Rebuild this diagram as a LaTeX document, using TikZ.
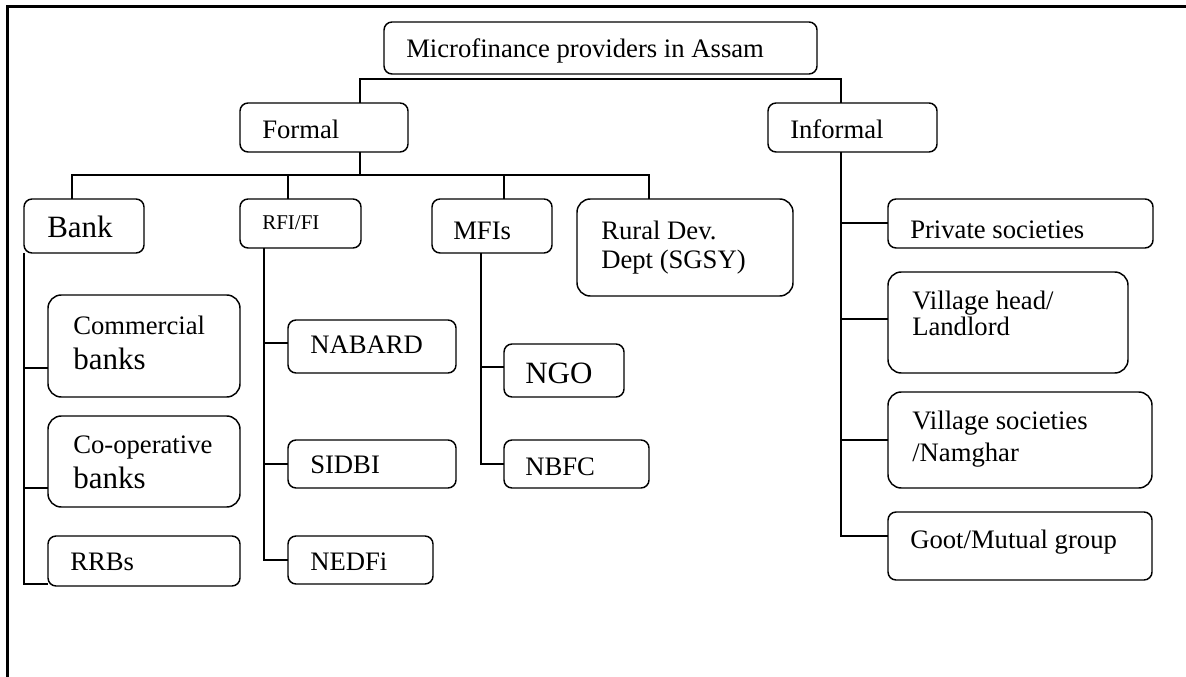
\documentclass[tikz,border=0pt]{standalone}
\usepackage{fontspec}
\setmainfont{Liberation Serif}
\newcommand\mybox[6][]{\node[boxst,#1,minimum width={(#5-#3)*0.75pt},minimum height={(#6-#4)*0.75pt}] (#2) at ({(#3+#5)/2},{(#4+#6)/2}) {};}
\begin{document}
\begin{tikzpicture}[x=0.75pt,y=-0.75pt,
  boxst/.style={draw, line width=1.1pt, rounded corners=6pt, inner sep=0pt, outer sep=0pt},
  bigbox/.style={rounded corners=10pt},
  conn/.style={line width=1.1pt},
  txt/.style={anchor=base west, inner sep=0pt, font=\fontsize{20}{24}\selectfont},
  txtL/.style={txt, font=\fontsize{23.25}{27}\selectfont},
  txtS/.style={txt, font=\fontsize{15.75}{19}\selectfont},
  frameline/.style={line width=2.25pt}]
\useasboundingbox (0,0) rectangle (1186,677);
\draw[frameline] (7.5,677) -- (7.5,6.5) -- (1186,6.5);

% boxes
\mybox{title}{384}{22}{817}{74}
\mybox{formal}{240}{103}{408}{152}
\mybox{informal}{768}{103}{937}{152}
\mybox{bank}{24}{199}{144}{253}
\mybox{rfi}{240}{199}{361}{248}
\mybox{mfis}{432}{199}{552}{253}
\mybox[bigbox]{rural}{577}{199}{793}{296}
\mybox[bigbox]{comm}{48}{295}{240}{397}
\mybox[bigbox]{coop}{48}{416}{240}{507}
\mybox{rrbs}{48}{536}{240}{586}
\mybox{nabard}{288}{320}{456}{373}
\mybox{sidbi}{288}{440}{456}{488}
\mybox{nedfi}{288}{536}{433}{584}
\mybox{ngo}{504}{344}{624}{397}
\mybox{nbfc}{504}{440}{649}{488}
\mybox{priv}{888}{199}{1153}{248}
\mybox[bigbox]{vhead}{888}{272}{1128}{373}
\mybox[bigbox]{vsoc}{888}{392}{1152}{488}
\mybox{goot}{888}{512}{1152}{580}

% texts
\node[txt] (ttitle) at (406,58) {Microfinance providers in Assam};
\node[txt] (tformal) at (262,139) {Formal};
\node[txt] (tinformal) at (790,139) {Informal};
\node[txtL] (tbank) at (47,238) {Bank};
\node[txtS] (trfi) at (262,230) {RFI/FI};
\node[txt] (tmfis) at (453,240) {MFIs};
\node[txt] (trural1) at (601,240) {Rural Dev.};
\node[txt] (trural2) at (601,269) {Dept (SGSY)};
\node[txt] (tcomm1) at (73,335) {Commercial};
\node[txtL] (tcomm2) at (73,370) {banks};
\node[txt] (tcoop1) at (73,453) {Co-operative};
\node[txtL] (tcoop2) at (73,488) {banks};
\node[txt] (trrbs) at (70,570) {RRBs};
\node[txt] (tnabard) at (310,354) {NABARD};
\node[txt] (tsidbi) at (310,474) {SIDBI};
\node[txt] (tnedfi) at (310,570) {NEDFi};
\node[txtL] (tngo) at (525,383) {NGO};
\node[txt] (tnbfc) at (525,475) {NBFC};
\node[txt] (tpriv) at (910,239) {Private societies};
\node[txt] (tvhead1) at (912,310) {Village head/};
\node[txt] (tvhead2) at (912,336) {Landlord};
\node[txt] (tvsoc1) at (912,430) {Village societies};
\node[txt] (tvsoc2) at (912,461) {/Namghar};
\node[txt] (tgoot) at (910,548) {Goot/Mutual group};

% connectors
\coordinate (tl) at (360,79); \coordinate (tr) at (841,79);
\draw[conn] (formal.north -| tl) -- (tl) -- (tr) -- (informal.north -| tr);
\coordinate (fm) at (360,175); \coordinate (fl) at (72,175); \coordinate (fr) at (649,175);
\coordinate (frfi) at (288,175); \coordinate (fmfi) at (504,175);
\draw[conn] (formal.south -| fm) -- (fm);
\draw[conn] (bank.north -| fl) -- (fl) -- (fr) -- (rural.north -| fr);
\draw[conn] (frfi) -- (rfi.north -| frfi);
\draw[conn] (fmfi) -- (mfis.north -| fmfi);

\coordinate (b1) at (24,368); \coordinate (b2) at (24,488); \coordinate (b3) at (24,584);
\draw[conn] (bank.south west) -- (b3) -- (rrbs.west |- b3);
\draw[conn] (b1) -- (comm.west |- b1);
\draw[conn] (b2) -- (coop.west |- b2);

\coordinate (r1) at (264,343); \coordinate (r2) at (264,464); \coordinate (r3) at (264,560);
\draw[conn] (rfi.south -| r3) -- (r3) -- (nedfi.west |- r3);
\draw[conn] (r1) -- (nabard.west |- r1);
\draw[conn] (r2) -- (sidbi.west |- r2);

\coordinate (m1) at (481,367); \coordinate (m2) at (481,464);
\draw[conn] (mfis.south -| m2) -- (m2) -- (nbfc.west |- m2);
\draw[conn] (m1) -- (ngo.west |- m1);

\coordinate (i1) at (841,223); \coordinate (i2) at (841,319); \coordinate (i3) at (841,440); \coordinate (i4) at (841,536);
\draw[conn] (informal.south -| i4) -- (i4) -- (goot.west |- i4);
\draw[conn] (i1) -- (priv.west |- i1);
\draw[conn] (i2) -- (vhead.west |- i2);
\draw[conn] (i3) -- (vsoc.west |- i3);
\end{tikzpicture}
\end{document}
